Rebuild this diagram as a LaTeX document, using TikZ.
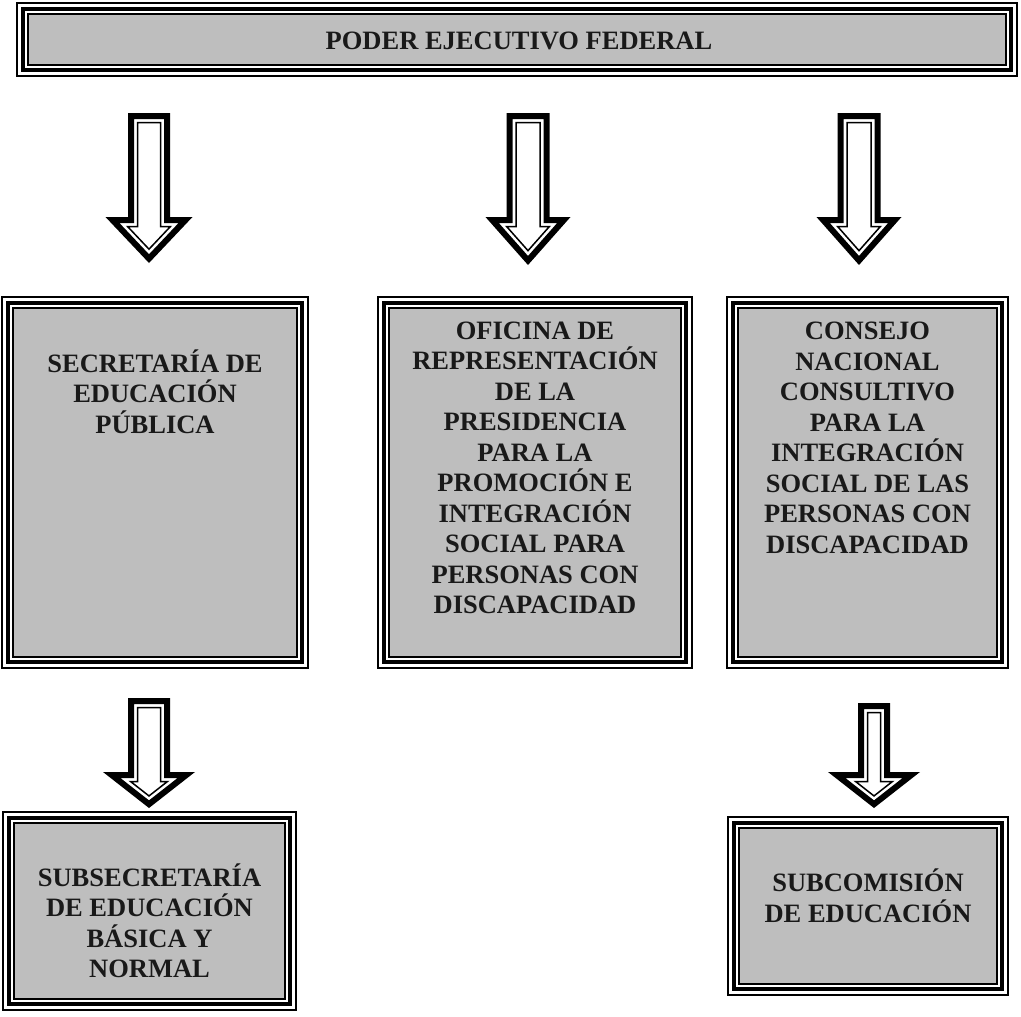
\documentclass[tikz,border=0pt]{standalone}
\usepackage{fontspec}
\setmainfont{Liberation Serif}
\usetikzlibrary{calc}
\definecolor{boxgray}{RGB}{190,190,190}
\definecolor{inkgray}{RGB}{25,25,25}
\newcommand\hollowarrow[5]{%
  \pgfmathsetmacro\arrL{sqrt(#4*#4+#5*#5)}%
  \foreach \d/\lw in {3/6pt, 9.5/1.5pt}{%
    \pgfmathsetmacro\arrhs{#3-\d}%
    \pgfmathsetmacro\arrhx{#4-\d*(\arrL+#4)/#5}%
    \pgfmathsetmacro\arrby{#2+\d}%
    \pgfmathsetmacro\arrty{#2+#5-\d*\arrL/#4}%
    \draw[line width=\lw, line join=miter, miter limit=10, fill=white]
      ($(#1)+(-\arrhs,\d)$) -- ($(#1)+(\arrhs,\d)$) -- ($(#1)+(\arrhs,\arrby)$)
      -- ($(#1)+(\arrhx,\arrby)$) -- ($(#1)+(0,\arrty)$) -- ($(#1)+(-\arrhx,\arrby)$)
      -- ($(#1)+(-\arrhs,\arrby)$) -- cycle;
  }%
}
\begin{document}
\begin{tikzpicture}[x=1pt,y=-1pt,
  frame/.style={draw, line width=1.2pt, fill=white, rectangle, inner sep=0pt, outer sep=0pt},
  txt/.style={font=\bfseries\fontsize{26.5}{30.5}\selectfont, align=center, anchor=base, inner sep=0pt, text=inkgray}]
\useasboundingbox (0,0) rectangle (1021,1017);
% boxes
\node[frame, minimum width=1000pt, minimum height=73pt] (top) at (517,39.5) {};
\node[frame, minimum width=306pt, minimum height=371pt] (sep) at (155,482.5) {};
\node[frame, minimum width=314pt, minimum height=371pt] (ofi) at (535,482.5) {};
\node[frame, minimum width=281pt, minimum height=371pt] (con) at (867.5,482.5) {};
\node[frame, minimum width=293pt, minimum height=198pt] (sub) at (149.5,911) {};
\node[frame, minimum width=280pt, minimum height=178pt] (com) at (868,906) {};
\foreach \n in {top,sep,ofi,con,sub,com}{
  \draw[line width=4pt] ([shift={(6,-6)}]\n.south west) rectangle ([shift={(-6,6)}]\n.north east);
  \draw[line width=1.3pt, fill=boxgray] ([shift={(11,-11)}]\n.south west) rectangle ([shift={(-11,11)}]\n.north east);
}
% texts (anchor = baseline of last line)
\node[txt] (t0) at (519,49) {PODER EJECUTIVO FEDERAL};
\node[txt] (t1) at (155,433) {SECRETARÍA DE\\EDUCACIÓN\\PÚBLICA};
\node[txt] (t2) at (535,613.5) {OFICINA DE\\REPRESENTACIÓN\\DE LA\\PRESIDENCIA\\PARA LA\\PROMOCIÓN E\\INTEGRACIÓN\\SOCIAL PARA\\PERSONAS CON\\DISCAPACIDAD};
\node[txt] (t3) at (867.5,553) {CONSEJO\\NACIONAL\\CONSULTIVO\\PARA LA\\INTEGRACIÓN\\SOCIAL DE LAS\\PERSONAS CON\\DISCAPACIDAD};
\node[txt] (t4) at (149.5,977.5) {SUBSECRETARÍA\\DE EDUCACIÓN\\BÁSICA Y\\NORMAL};
\node[txt] (t5) at (868,922) {SUBCOMISIÓN\\DE EDUCACIÓN};
% arrows (start coordinates below the parent boxes)
\coordinate (a1) at ($(top.south -| 149,0)+(0,37)$);
\coordinate (a2) at ($(top.south -| 528,0)+(0,37)$);
\coordinate (a3) at ($(top.south -| 859,0)+(0,37)$);
\coordinate (a4) at ($(sep.south -| 149,0)+(0,30)$);
\coordinate (a5) at ($(con.south -| 874,0)+(0,35)$);
\hollowarrow{a1}{104}{21}{43.5}{46}
\hollowarrow{a2}{104}{21.5}{42.5}{48}
\hollowarrow{a3}{104}{21.5}{42.5}{48}
\hollowarrow{a4}{74}{21}{46}{36}
\hollowarrow{a5}{69}{16}{46}{36}
\end{tikzpicture}
\end{document}
